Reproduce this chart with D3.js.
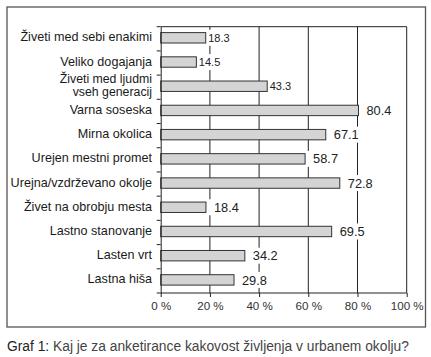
<!DOCTYPE html>
<html><head><meta charset="utf-8">
<script src="https://cdn.jsdelivr.net/npm/d3@7"></script>
<style>body{margin:0;background:#fff}svg{display:block}text{font-family:"Liberation Sans",Arial,sans-serif}</style>
</head><body>
<script>
const categories = ["Živeti med sebi enakimi","Veliko dogajanja","Živeti med ljudmi|vseh generacij","Varna soseska","Mirna okolica","Urejen mestni promet","Urejna/vzdrževano okolje","Živet na obrobju mesta","Lastno stanovanje","Lasten vrt","Lastna hiša"];
const values = [18.3,14.5,43.3,80.4,67.1,58.7,72.8,18.4,69.5,34.2,29.8];
const xTicks = [0,20,40,60,80,100];
const tickLabels = ["0 %","20 %","40 %","60 %","80 %","100 %"];
const caption = "Kaj je za anketirance kakovost življenja v urbanem okolju?";

(function(){
const W=431,H=357;
const svg=d3.select("body").append("svg").attr("width",W).attr("height",H);
const pL=160.7,pR=406.7,pT=26.7,pB=293;
const x=d3.scaleLinear().domain([0,100]).range([pL,pR]);
const y=d3.scaleBand().domain(categories).range([pT,pB]).padding(0);

// frame
svg.append("rect").attr("x",7).attr("y",7).attr("width",418.5).attr("height",320).attr("fill","none").attr("stroke","#555").attr("stroke-width",1.3);

// gridlines
svg.append("g").selectAll("line").data(xTicks.filter(d=>d>0&&d<100)).join("line")
  .attr("x1",d=>x(d)).attr("x2",d=>x(d)).attr("y1",pT).attr("y2",pB)
  .attr("stroke","#222").attr("stroke-width",1);

// plot frame top/right
svg.append("path").attr("d",`M${pL},${pT}H${pR}V${pB}`).attr("fill","none").attr("stroke","#222").attr("stroke-width",1);

// bars
const bh=10.4;
svg.append("g").selectAll("rect").data(values).join("rect")
  .attr("x",pL).attr("y",(d,i)=>y(categories[i])+y.bandwidth()/2-1-bh/2)
  .attr("width",d=>x(d)-pL).attr("height",bh)
  .attr("fill","#d4d4d4").attr("stroke","#333").attr("stroke-width",1);

// value labels
const lg=svg.append("g");
values.forEach((v,i)=>{
  const small=i<3;
  const cy=y(categories[i])+y.bandwidth()/2-1;
  const tx=x(v)+(small?2.5:8);
  const fs=small?11:12.8;
  const w=(small?21:25);
  lg.append("rect").attr("x",x(v)+1.5).attr("y",cy-8).attr("width",tx-x(v)-1.5+w+2).attr("height",16).attr("fill","#fff");
  lg.append("text").attr("x",tx).attr("y",cy).attr("dy","0.36em").attr("font-size",fs).attr("fill","#222").text(v.toFixed(1));
});

// y axis
const yAxis=d3.axisLeft(y).tickSize(0).tickFormat("");
svg.append("g").attr("transform",`translate(${pL},0)`).call(yAxis)
  .call(g=>g.select(".domain").attr("stroke","#222"));
svg.append("g").selectAll("line").data(d3.range(categories.length+1)).join("line")
  .attr("x1",pL-4).attr("x2",pL).attr("y1",i=>pT+i*y.step()).attr("y2",i=>pT+i*y.step())
  .attr("stroke","#222");
// category labels
const cl=svg.append("g");
categories.forEach(c=>{
  const parts=c.split("|");
  const cy=y(c)+y.bandwidth()/2-2;
  const multi=parts.length>1;
  const t=cl.append("text").attr("text-anchor","end").attr("font-size",multi?12.3:12.6).attr("fill","#1a1a1a");
  parts.forEach((p,j)=>{
    t.append("tspan").attr("x",152).attr("y",cy+(j-(parts.length-1)/2)*13.4).attr("dy","0.36em").text(p);
  });
});

// x axis
const xAxis=d3.axisBottom(x).tickValues(xTicks).tickSize(4).tickFormat((d,i)=>tickLabels[i]);
svg.append("g").attr("transform",`translate(0,${pB})`).call(xAxis)
  .call(g=>{g.select(".domain").attr("stroke","#222").attr("d",`M${pL},0H${pR}`);
    g.selectAll(".tick line").attr("stroke","#222");
    g.selectAll(".tick text").attr("font-size",11.6).attr("fill","#333").attr("y",9).attr("font-family","Liberation Sans,Arial,sans-serif");});

// caption
const ct=svg.append("text").attr("x",7).attr("y",351).attr("font-size",13.8).attr("fill","#444");
ct.append("tspan").attr("fill","#222").text("Graf 1: ");
ct.append("tspan").text(caption);
})();
</script>
</body></html>
